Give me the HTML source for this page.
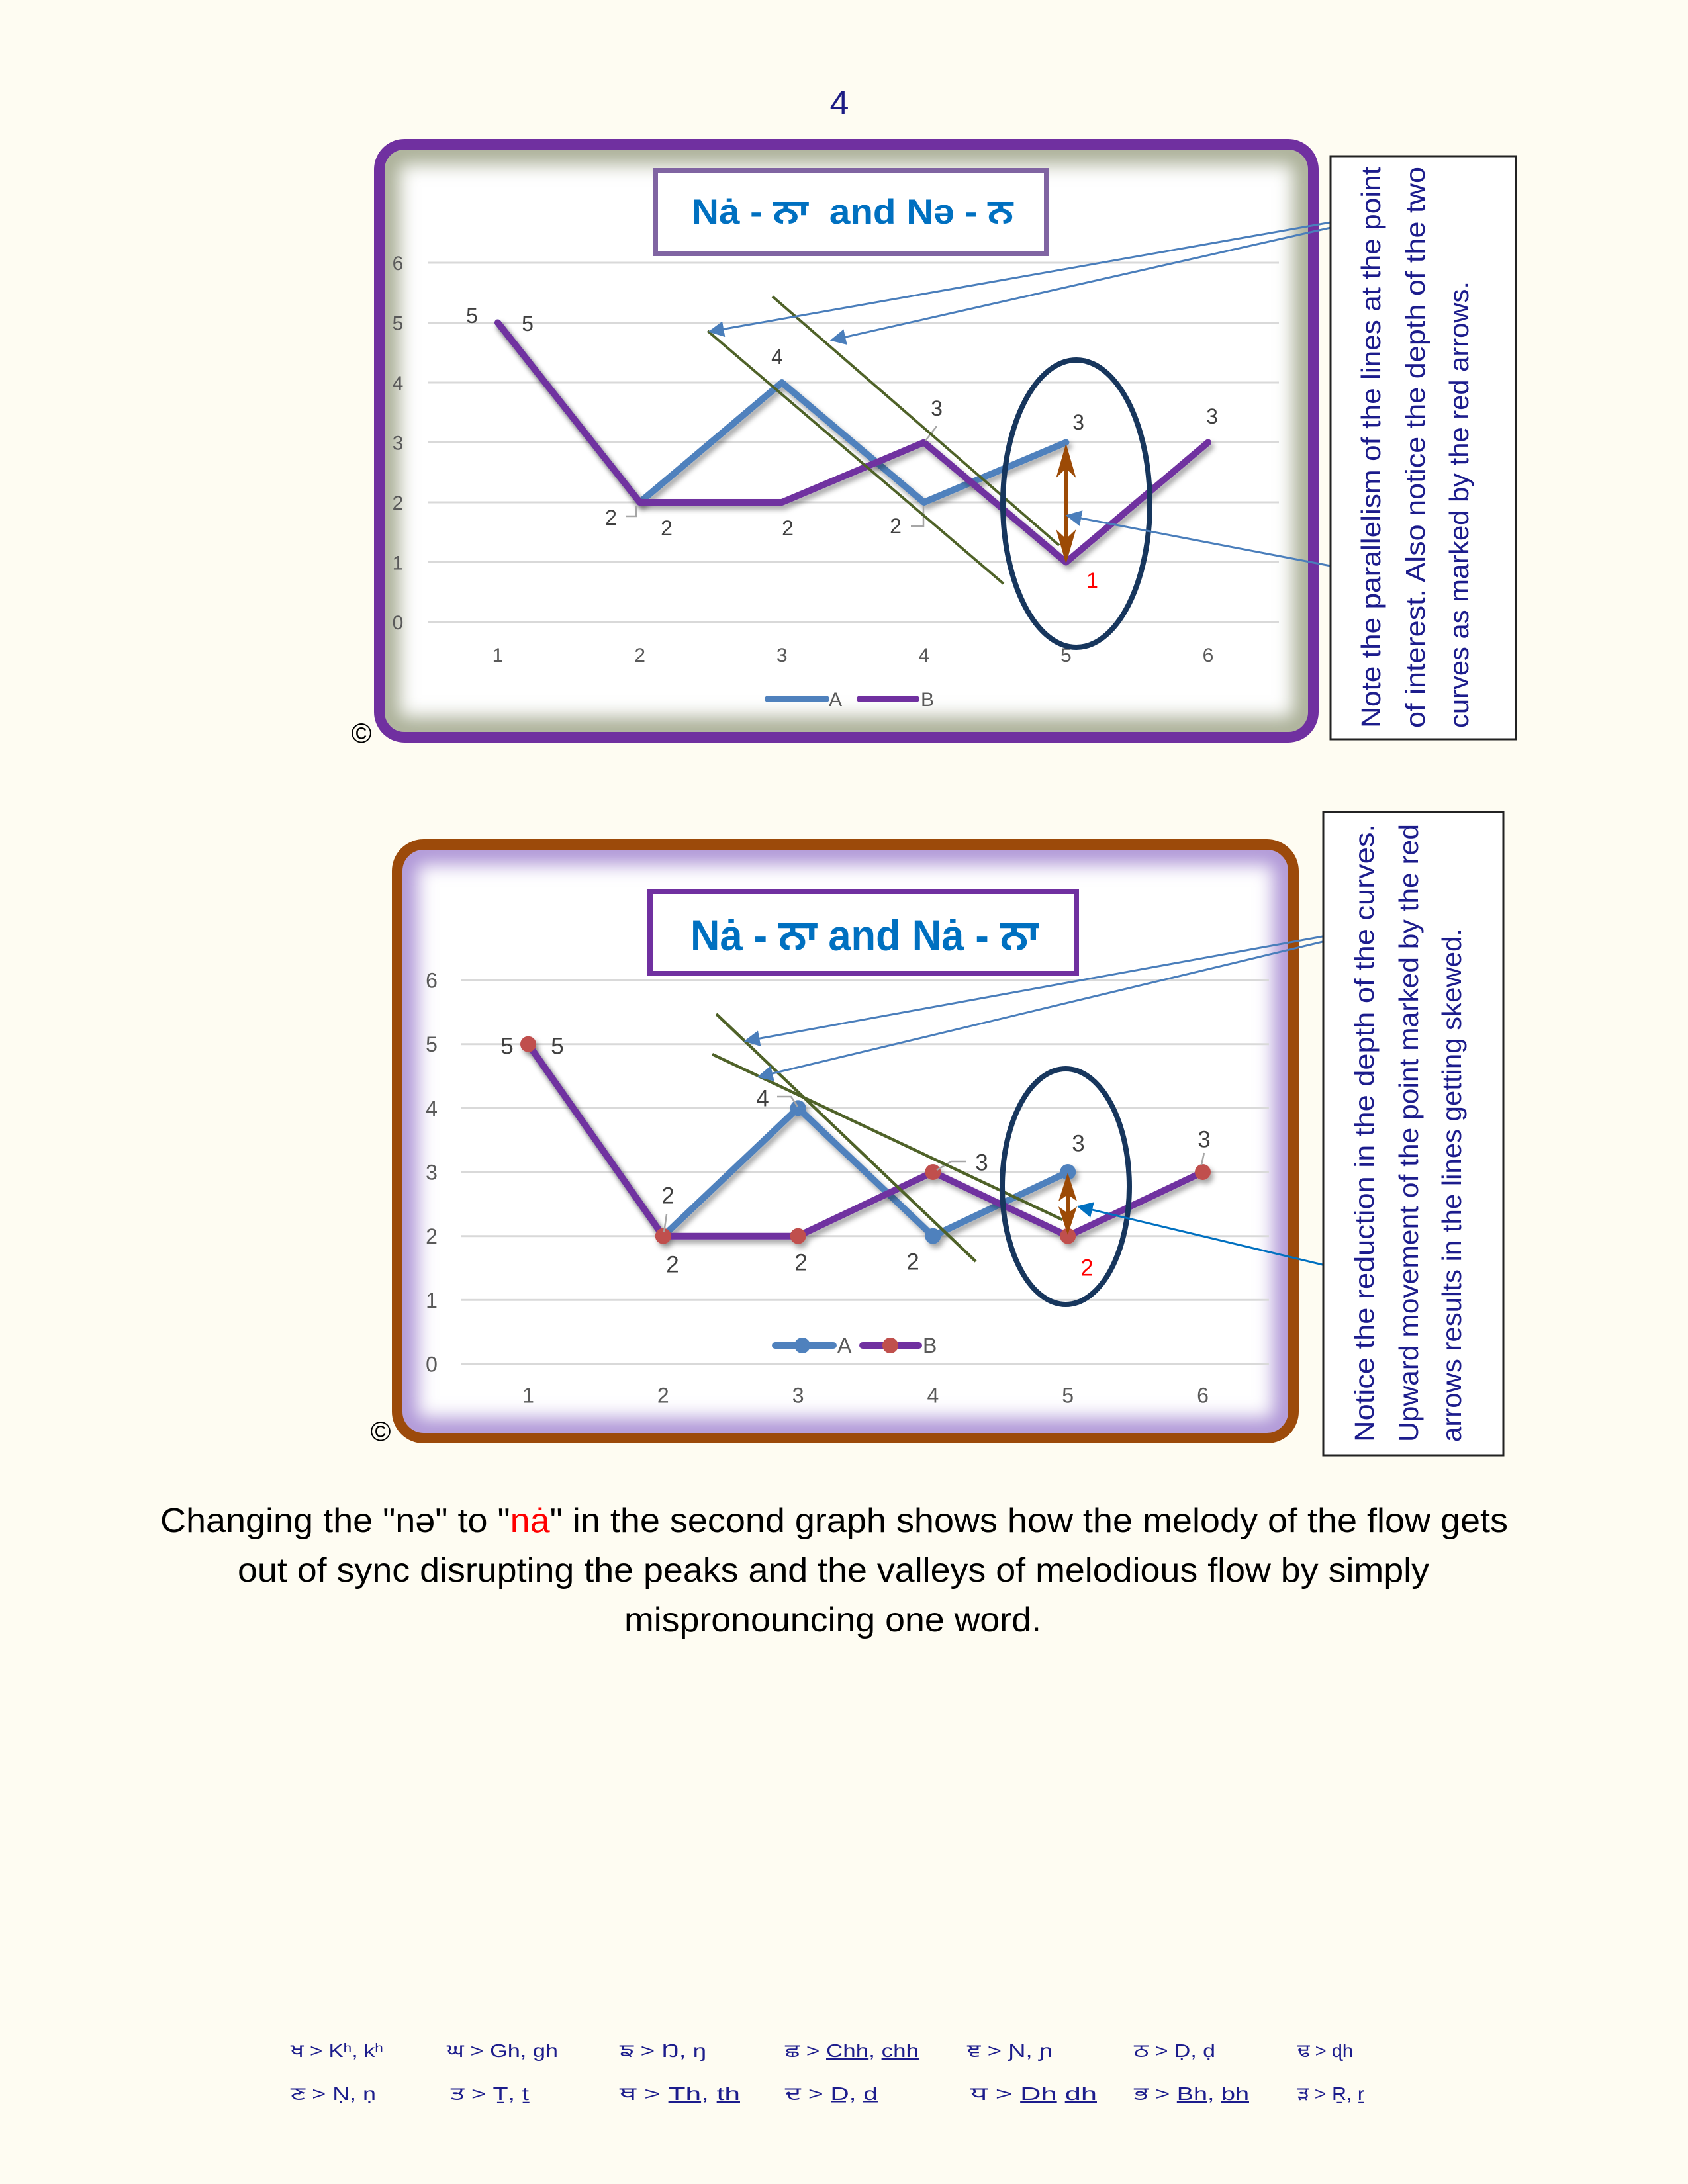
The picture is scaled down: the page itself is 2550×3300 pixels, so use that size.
<!DOCTYPE html>
<html><head><meta charset="utf-8"><style>
html,body{margin:0;padding:0;background:#fefcf2;}
svg{display:block;}
text{font-family:"Liberation Sans","DejaVu Sans","Noto Sans Gurmukhi","Lohit Gurmukhi",sans-serif;}
</style></head><body>
<svg xmlns="http://www.w3.org/2000/svg" width="2550" height="3300" viewBox="0 0 2550 3300">
<defs>
<filter id="blur" x="-15%" y="-15%" width="130%" height="130%"><feGaussianBlur stdDeviation="14"/></filter>
<filter id="sh" x="-10%" y="-10%" width="120%" height="130%"><feDropShadow dx="4" dy="6" stdDeviation="4" flood-color="#000" flood-opacity="0.35"/></filter>
<marker id="ab" viewBox="0 0 10 10" refX="9" refY="5" markerWidth="8" markerHeight="8" orient="auto" markerUnits="strokeWidth"><path d="M0,0 L10,5 L0,10 z" fill="#4a7ebb"/></marker>
<marker id="ab2" viewBox="0 0 10 10" refX="9" refY="5" markerWidth="8" markerHeight="8" orient="auto" markerUnits="strokeWidth"><path d="M0,0 L10,5 L0,10 z" fill="#0070c0"/></marker>
<clipPath id="c1"><rect x="581" y="226" width="1395" height="880" rx="28"/></clipPath>
<clipPath id="c2"><rect x="608" y="1284" width="1338" height="881" rx="28"/></clipPath>
</defs>
<rect width="2550" height="3300" fill="#fefcf2"/>

<!-- page number -->
<text x="1268" y="173" font-size="52" fill="#1c1c84" text-anchor="middle">4</text>

<!-- ================= CHART 1 ================= -->
<g clip-path="url(#c1)">
<rect x="581" y="226" width="1395" height="880" fill="#ffffff"/>
<rect x="581" y="226" width="1395" height="880" rx="28" fill="none" stroke="#a9ae95" stroke-width="44" filter="url(#blur)"/>
</g>
<rect x="573" y="218" width="1411" height="896" rx="38" fill="none" stroke="#7030a0" stroke-width="16"/>

<!-- gridlines -->
<g stroke="#d9d9d9" stroke-width="3">
<line x1="646" y1="397" x2="1932" y2="397"/>
<line x1="646" y1="487.5" x2="1932" y2="487.5"/>
<line x1="646" y1="578" x2="1932" y2="578"/>
<line x1="646" y1="668.5" x2="1932" y2="668.5"/>
<line x1="646" y1="759" x2="1932" y2="759"/>
<line x1="646" y1="849.5" x2="1932" y2="849.5"/>
<line x1="646" y1="940" x2="1932" y2="940" stroke-width="4"/>
</g>
<!-- axis labels -->
<g font-size="30" fill="#595959" text-anchor="middle">
<text x="601" y="408">6</text>
<text x="601" y="498.5">5</text>
<text x="601" y="589">4</text>
<text x="601" y="679.5">3</text>
<text x="601" y="770">2</text>
<text x="601" y="860.5">1</text>
<text x="601" y="951">0</text>
<text x="752" y="1000">1</text>
<text x="966.6" y="1000">2</text>
<text x="1181.2" y="1000">3</text>
<text x="1395.8" y="1000">4</text>
<text x="1610.4" y="1000">5</text>
<text x="1825" y="1000">6</text>
</g>

<!-- title box 1 -->
<rect x="990" y="258" width="591" height="125" fill="#ffffff" stroke="#8064a2" stroke-width="8"/>
<text x="1045" y="338" font-size="53" font-weight="bold" fill="#0070c0" textLength="486" lengthAdjust="spacingAndGlyphs" style="white-space:pre">Nȧ - ਨਾ  and Nə - ਨ</text>

<!-- series -->
<polyline points="752,487.5 966.6,759 1181.2,578 1395.8,759 1610.4,668.5" fill="none" stroke="#4f81bd" stroke-width="10" stroke-linecap="round" stroke-linejoin="round" filter="url(#sh)"/>
<polyline points="752,487.5 966.6,759 1181.2,759 1395.8,668.5 1610.4,849.5 1825,668.5" fill="none" stroke="#7030a0" stroke-width="10" stroke-linecap="round" stroke-linejoin="round" filter="url(#sh)"/>

<!-- leaders -->
<g stroke="#a6a6a6" stroke-width="2.5" fill="none">
<polyline points="946,780 961,780 961,764"/>
<line x1="1415" y1="644" x2="1398" y2="666"/>
<polyline points="1376,795 1395,795 1395,764"/>
</g>
<!-- data labels -->
<g font-size="32" fill="#404040" text-anchor="middle">
<text x="713" y="488">5</text>
<text x="797" y="500">5</text>
<text x="923" y="793">2</text>
<text x="1007" y="809">2</text>
<text x="1174" y="550">4</text>
<text x="1190" y="809">2</text>
<text x="1415" y="628">3</text>
<text x="1353" y="806">2</text>
<text x="1629" y="649">3</text>
<text x="1831" y="640">3</text>
<text x="1650" y="888" fill="#ff0000">1</text>
</g>

<!-- legend 1 -->
<line x1="1160" y1="1056" x2="1248" y2="1056" stroke="#4f81bd" stroke-width="10" stroke-linecap="round"/>
<text x="1252" y="1067" font-size="30" fill="#595959">A</text>
<line x1="1299" y1="1056" x2="1384" y2="1056" stroke="#7030a0" stroke-width="10" stroke-linecap="round"/>
<text x="1391" y="1067" font-size="30" fill="#595959">B</text>

<!-- olive lines -->
<g stroke="#4f6228" stroke-width="4">
<line x1="1069" y1="500" x2="1516" y2="882"/>
<line x1="1167" y1="448" x2="1600" y2="824"/>
</g>
<!-- ellipse -->
<ellipse cx="1626" cy="761" rx="111" ry="217" fill="none" stroke="#17365d" stroke-width="8"/>
<!-- brown arrow -->
<g fill="#9c4a06">
<rect x="1607" y="700" width="7" height="125"/>
<polygon points="1610.4,670 1625.4,722 1610.4,708 1595.4,722"/>
<polygon points="1610.4,852 1625.4,800 1610.4,814 1595.4,800"/>
</g>
<!-- blue callout arrows -->
<g stroke="#4a7ebb" stroke-width="3" fill="none">
<line x1="2010" y1="336" x2="1072" y2="501" marker-end="url(#ab)"/>
<line x1="2010" y1="344" x2="1256" y2="514" marker-end="url(#ab)"/>
<line x1="2010" y1="855" x2="1612" y2="779" marker-end="url(#ab)"/>
</g>
<text x="546" y="1122" font-size="42" fill="#000" text-anchor="middle">©</text>

<!-- text box 1 -->
<rect x="2010" y="236" width="280" height="881" fill="#ffffff" stroke="#222" stroke-width="3"/>
<g font-size="41" fill="#1c1c8c">
<text transform="translate(2085,1100) rotate(-90)" textLength="848" lengthAdjust="spacingAndGlyphs">Note the parallelism of the lines at the point</text>
<text transform="translate(2152,1100) rotate(-90)" textLength="848" lengthAdjust="spacingAndGlyphs">of interest. Also notice the depth of the two</text>
<text transform="translate(2218,1100) rotate(-90)" textLength="675" lengthAdjust="spacingAndGlyphs">curves as marked by the red arrows.</text>
</g>

<!-- ================= CHART 2 ================= -->
<g clip-path="url(#c2)">
<rect x="608" y="1284" width="1338" height="881" fill="#ffffff"/>
<rect x="608" y="1284" width="1338" height="881" rx="28" fill="none" stroke="#ad94d6" stroke-width="44" filter="url(#blur)"/>
</g>
<rect x="600" y="1276" width="1354" height="897" rx="40" fill="none" stroke="#9c4a0a" stroke-width="16"/>

<g stroke="#d9d9d9" stroke-width="3">
<line x1="696" y1="1481" x2="1917" y2="1481"/>
<line x1="696" y1="1577.7" x2="1917" y2="1577.7"/>
<line x1="696" y1="1674.3" x2="1917" y2="1674.3"/>
<line x1="696" y1="1771" x2="1917" y2="1771"/>
<line x1="696" y1="1867.7" x2="1917" y2="1867.7"/>
<line x1="696" y1="1964.3" x2="1917" y2="1964.3"/>
<line x1="696" y1="2061" x2="1917" y2="2061" stroke-width="4"/>
</g>
<g font-size="32" fill="#595959" text-anchor="middle">
<text x="652" y="1492.5">6</text>
<text x="652" y="1589">5</text>
<text x="652" y="1686">4</text>
<text x="652" y="1782.5">3</text>
<text x="652" y="1879">2</text>
<text x="652" y="1976">1</text>
<text x="652" y="2072.5">0</text>
<text x="798" y="2119.5">1</text>
<text x="1001.8" y="2119.5">2</text>
<text x="1205.6" y="2119.5">3</text>
<text x="1409.4" y="2119.5">4</text>
<text x="1613.2" y="2119.5">5</text>
<text x="1817" y="2119.5">6</text>
</g>

<!-- title box 2 -->
<rect x="982" y="1347" width="644" height="124" fill="#ffffff" stroke="#7030a0" stroke-width="8"/>
<text x="1043" y="1436" font-size="66" font-weight="bold" fill="#0070c0" textLength="526" lengthAdjust="spacingAndGlyphs">Nȧ - ਨਾ and Nȧ - ਨਾ</text>

<!-- series 2 -->
<g filter="url(#sh)">
<polyline points="798,1577.7 1001.8,1867.7 1205.6,1674.3 1409.4,1867.7 1613.2,1771" fill="none" stroke="#4f81bd" stroke-width="10" stroke-linecap="round" stroke-linejoin="round"/>
<g fill="#4f81bd">
<circle cx="1205.6" cy="1674.3" r="12"/>
<circle cx="1409.4" cy="1867.7" r="12"/>
<circle cx="1613.2" cy="1771" r="12"/>
</g>
</g>
<g filter="url(#sh)">
<polyline points="798,1577.7 1001.8,1867.7 1205.6,1867.7 1409.4,1771 1613.2,1867.7 1817,1771" fill="none" stroke="#7030a0" stroke-width="10" stroke-linecap="round" stroke-linejoin="round"/>
<g fill="#c0504d">
<circle cx="798" cy="1577.7" r="12"/>
<circle cx="1001.8" cy="1867.7" r="12"/>
<circle cx="1205.6" cy="1867.7" r="12"/>
<circle cx="1409.4" cy="1771" r="12"/>
<circle cx="1613.2" cy="1867.7" r="12"/>
<circle cx="1817" cy="1771" r="12"/>
</g>
</g>

<g stroke="#a6a6a6" stroke-width="2.5" fill="none">
<line x1="1007" y1="1835" x2="1003" y2="1862"/>
<polyline points="1174,1657 1195,1657 1205,1672"/>
<polyline points="1460,1755 1437,1755 1415,1768"/>
<line x1="1819" y1="1742" x2="1815" y2="1760"/>
</g>
<g font-size="35" fill="#404040" text-anchor="middle">
<text x="766" y="1592.5">5</text>
<text x="842" y="1592.5">5</text>
<text x="1009" y="1818.5">2</text>
<text x="1016" y="1922.5">2</text>
<text x="1152" y="1671.5">4</text>
<text x="1210" y="1919.5">2</text>
<text x="1483" y="1768.5">3</text>
<text x="1379" y="1918.5">2</text>
<text x="1629" y="1739.5">3</text>
<text x="1819" y="1733.5">3</text>
<text x="1642" y="1927.5" fill="#ff0000">2</text>
</g>

<!-- legend 2 -->
<line x1="1171" y1="2033" x2="1259" y2="2033" stroke="#4f81bd" stroke-width="10" stroke-linecap="round"/>
<circle cx="1212" cy="2033" r="12" fill="#4f81bd"/>
<text x="1265" y="2044" font-size="32" fill="#595959">A</text>
<line x1="1303" y1="2033" x2="1388" y2="2033" stroke="#7030a0" stroke-width="10" stroke-linecap="round"/>
<circle cx="1345" cy="2033" r="12" fill="#c0504d"/>
<text x="1394" y="2044" font-size="32" fill="#595959">B</text>

<g stroke="#4f6228" stroke-width="4.5">
<line x1="1082" y1="1532" x2="1474" y2="1906"/>
<line x1="1076" y1="1593" x2="1605" y2="1843"/>
</g>
<ellipse cx="1610" cy="1793" rx="96" ry="178" fill="none" stroke="#17365d" stroke-width="8"/>
<g fill="#9c4a06">
<rect x="1610" y="1800" width="6" height="40"/>
<polygon points="1613,1772 1627,1815 1613,1805 1599,1815"/>
<polygon points="1613,1866 1627,1823 1613,1833 1599,1823"/>
</g>
<g stroke-width="3" fill="none">
<line x1="1998" y1="1415" x2="1126" y2="1573" stroke="#4a7ebb" marker-end="url(#ab)"/>
<line x1="1998" y1="1423" x2="1146" y2="1627" stroke="#4a7ebb" marker-end="url(#ab)"/>
<line x1="1998" y1="1911" x2="1629" y2="1823" stroke="#0070c0" marker-end="url(#ab2)"/>
</g>
<text x="575" y="2177" font-size="42" fill="#000" text-anchor="middle">©</text>

<!-- text box 2 -->
<rect x="1999" y="1227" width="272" height="972" fill="#ffffff" stroke="#222" stroke-width="3"/>
<g font-size="41" fill="#1c1c8c">
<text transform="translate(2075,2179) rotate(-90)" textLength="934" lengthAdjust="spacingAndGlyphs">Notice the reduction in the depth of the curves.</text>
<text transform="translate(2142,2179) rotate(-90)" textLength="934" lengthAdjust="spacingAndGlyphs">Upward movement of the point marked by the red</text>
<text transform="translate(2207,2179) rotate(-90)" textLength="776" lengthAdjust="spacingAndGlyphs">arrows results in the lines getting skewed.</text>
</g>

<!-- caption -->
<g font-size="52" fill="#000" text-anchor="middle">
<text x="1260" y="2315" textLength="2036" lengthAdjust="spacingAndGlyphs">Changing the "nə" to "<tspan fill="#ff0000">nȧ</tspan>" in the second graph shows how the melody of the flow gets</text>
<text x="1259" y="2390" textLength="1800" lengthAdjust="spacingAndGlyphs">out of sync disrupting the peaks and the valleys of melodious flow by simply</text>
<text x="1258" y="2465" textLength="630" lengthAdjust="spacingAndGlyphs">mispronouncing one word.</text>
</g>

<!-- footer -->
<g font-size="28" fill="#1c1c8c">
<text x="439" y="3108" textLength="140" lengthAdjust="spacingAndGlyphs">ਖ &gt; Kʰ, kʰ</text>
<text x="675" y="3108" textLength="168" lengthAdjust="spacingAndGlyphs">ਘ &gt; Gh, gh</text>
<text x="936" y="3108" textLength="131" lengthAdjust="spacingAndGlyphs">ਙ &gt; Ŋ, ŋ</text>
<text x="1186" y="3108" textLength="202" lengthAdjust="spacingAndGlyphs">ਛ &gt; <tspan text-decoration="underline">Chh</tspan>, <tspan text-decoration="underline">chh</tspan></text>
<text x="1461" y="3108" textLength="129" lengthAdjust="spacingAndGlyphs">ਞ &gt; Ɲ, ɲ</text>
<text x="1713" y="3108" textLength="123" lengthAdjust="spacingAndGlyphs">ਠ &gt; Ḍ, ḍ</text>
<text x="1960" y="3108" textLength="84" lengthAdjust="spacingAndGlyphs">ਢ &gt; ɖh</text>

<text x="439" y="3173" textLength="129" lengthAdjust="spacingAndGlyphs">ਣ &gt; Ṇ, ṇ</text>
<text x="681" y="3173" textLength="118" lengthAdjust="spacingAndGlyphs">ਤ &gt; Ṯ, ṯ</text>
<text x="936" y="3173" textLength="182" lengthAdjust="spacingAndGlyphs">ਥ &gt; <tspan text-decoration="underline">Th</tspan>, <tspan text-decoration="underline">th</tspan></text>
<text x="1186" y="3173" textLength="140" lengthAdjust="spacingAndGlyphs">ਦ &gt; D̲, d̲</text>
<text x="1466" y="3173" textLength="191" lengthAdjust="spacingAndGlyphs">ਧ &gt; <tspan text-decoration="underline">Dh</tspan> <tspan text-decoration="underline">dh</tspan></text>
<text x="1713" y="3173" textLength="174" lengthAdjust="spacingAndGlyphs">ਭ &gt; <tspan text-decoration="underline">Bh</tspan>, <tspan text-decoration="underline">bh</tspan></text>
<text x="1960" y="3173" textLength="101" lengthAdjust="spacingAndGlyphs">ੜ &gt; Ṟ, ṟ</text>
</g>
</svg>
</body></html>
